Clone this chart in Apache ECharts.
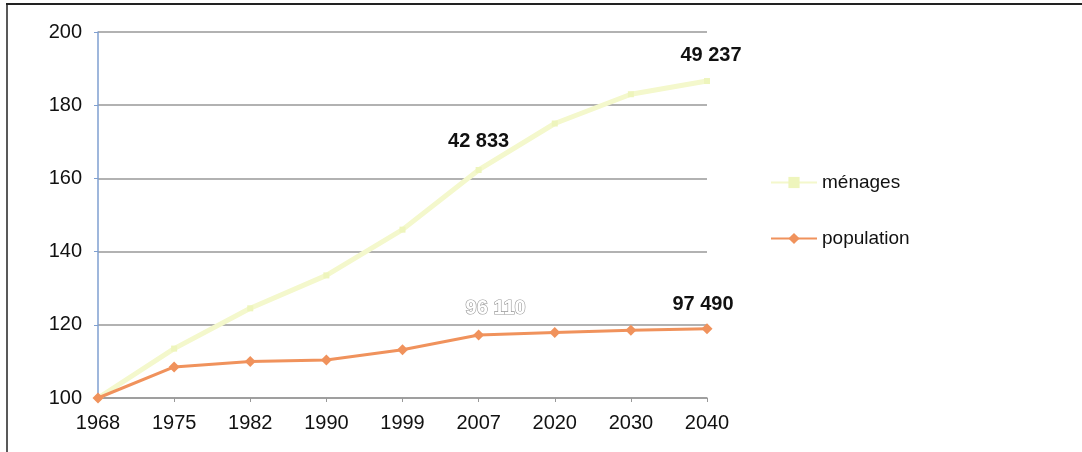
<!DOCTYPE html>
<html>
<head>
<meta charset="utf-8">
<script src="https://cdn.jsdelivr.net/npm/echarts@6/dist/echarts.min.js"></script>
<style>
html,body{margin:0;padding:0;background:#fff;}
#chart{width:1082px;height:452px;}
</style>
</head>
<body>
<div id="chart"></div>
<script>
const years = ['1968','1975','1982','1990','1999','2007','2020','2030','2040'];
const menages = [100, 113.5, 124.5, 133.5, 146, 162.3, 175, 183, 186.6];
const population = [100, 108.5, 110, 110.4, 113.2, 117.2, 117.9, 118.5, 118.9];
const menagesLabels = {5: '42 833', 8: '49 237'};
const populationLabels = {5: '96 110', 8: '97 490'};
const yTicks = [100, 120, 140, 160, 180, 200];

const labelStyleM = {
  5: {distance: 15, offset: [0, 0]},
  8: {distance: 13, offset: [4, 0]}
};
const labelStyleP = {
  5: {distance: 11, offset: [17, 0], color: '#fff', textBorderColor: '#999', textBorderWidth: 1.2},
  8: {distance: 9, offset: [-4, 0], color: '#111'}
};

function build(values, labels, styles) {
  return values.map((v, i) => {
    if (labels[i] === undefined) return v;
    const s = styles[i];
    return {
      value: v,
      label: Object.assign({
        show: true,
        position: 'top',
        formatter: labels[i],
        fontFamily: 'Liberation Sans, Arial, sans-serif',
        fontWeight: 'bold',
        fontSize: 20,
        color: '#111'
      }, s)
    };
  });
}

const chart = echarts.init(document.getElementById('chart'));
chart.setOption({
  animation: false,
  backgroundColor: '#fff',
  grid: {left: 98, right: 375, top: 32, bottom: 54, containLabel: false},
  legend: {
    orient: 'vertical',
    left: 765,
    top: 168,
    itemWidth: 46,
    itemHeight: 14,
    itemGap: 37,
    textStyle: {fontFamily: 'Liberation Sans, Arial, sans-serif', fontSize: 19, color: '#111'},
    data: ['ménages', 'population']
  },
  xAxis: {
    type: 'category',
    data: years,
    boundaryGap: false,
    axisLine: {lineStyle: {color: '#999', width: 1.5}},
    axisTick: {show: true, length: 4, lineStyle: {color: '#999'}},
    axisLabel: {fontFamily: 'Liberation Sans, Arial, sans-serif', fontSize: 20, color: '#111', margin: 15}
  },
  yAxis: {
    type: 'value',
    min: yTicks[0],
    max: yTicks[yTicks.length - 1],
    interval: 20,
    axisLine: {show: true, lineStyle: {color: '#7f9fd0', width: 1.5}},
    axisTick: {show: true, length: 4, lineStyle: {color: '#7f9fd0'}},
    splitLine: {lineStyle: {color: '#999', width: 1.5}},
    axisLabel: {fontFamily: 'Liberation Sans, Arial, sans-serif', fontSize: 20, color: '#111', margin: 16}
  },
  series: [
    {
      name: 'ménages',
      type: 'line',
      data: build(menages, menagesLabels, labelStyleM),
      symbol: 'rect',
      symbolSize: 6,
      lineStyle: {color: '#f4f8cc', width: 5},
      itemStyle: {color: '#eef5bc'},
      z: 2
    },
    {
      name: 'population',
      type: 'line',
      data: build(population, populationLabels, labelStyleP),
      symbol: 'diamond',
      symbolSize: 11,
      lineStyle: {color: '#f0925c', width: 3},
      itemStyle: {color: '#f0925c'},
      z: 3
    }
  ],
  graphic: [
    {type: 'line', shape: {x1: 6, y1: 4, x2: 1082, y2: 4}, style: {stroke: '#222', lineWidth: 2}},
    {type: 'line', shape: {x1: 7, y1: 4, x2: 7, y2: 452}, style: {stroke: '#222', lineWidth: 1.5}}
  ]
});
</script>
</body>
</html>
